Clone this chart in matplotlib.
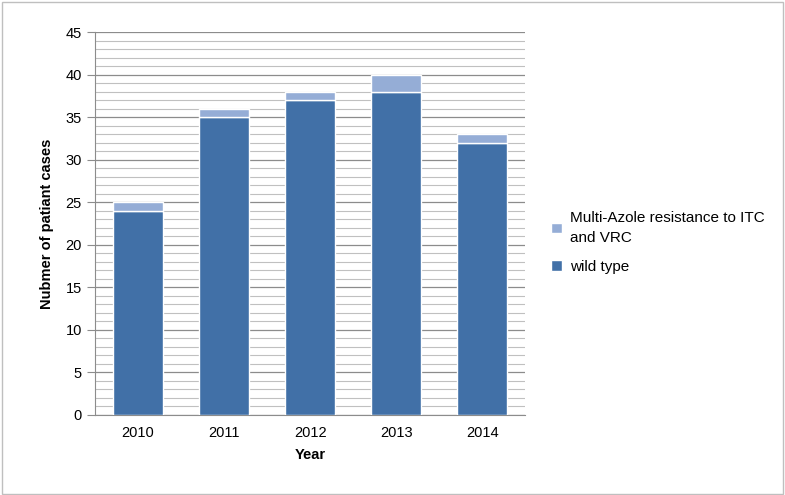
import matplotlib.pyplot as plt
from matplotlib.patches import Rectangle
from matplotlib.ticker import MultipleLocator

years = ["2010", "2011", "2012", "2013", "2014"]
wild_type = [24, 35, 37, 38, 32]
multi_azole = [1, 1, 1, 2, 1]

plt.rcParams["font.family"] = ["Liberation Sans", "DejaVu Sans"]

fig = plt.figure(figsize=(7.85, 4.95), dpi=100)
ax = fig.add_axes([0.121, 0.162, 0.548, 0.773])

x = range(len(years))
ax.bar(x, wild_type, width=0.58, color="#4170A7", edgecolor="white",
       linewidth=1, label="wild type", zorder=3)
ax.bar(x, multi_azole, bottom=wild_type, width=0.58, color="#95ADD6",
       edgecolor="white", linewidth=1,
       label="Multi-Azole resistance to ITC\nand VRC", zorder=3)

ax.set_ylim(0, 45)
ax.set_xlim(-0.5, len(years) - 0.5)
ax.yaxis.set_major_locator(MultipleLocator(5))
ax.yaxis.set_minor_locator(MultipleLocator(1))
ax.grid(axis="y", which="major", color="#8c8c8c", linewidth=0.9, zorder=0)
ax.grid(axis="y", which="minor", color="#c0c0c0", linewidth=0.8, zorder=0)
ax.set_xticks(list(x))
ax.set_xticklabels(years)
ax.tick_params(axis="y", which="major", length=6, color="#8c8c8c", labelsize=10.5)
ax.tick_params(axis="y", which="minor", length=0)
ax.tick_params(axis="x", length=0, labelsize=10.5, pad=8)

for side in ["top", "right"]:
    ax.spines[side].set_visible(False)
for side in ["left", "bottom"]:
    ax.spines[side].set_color("#8c8c8c")

ax.set_ylabel("Nubmer of patiant cases", fontweight="bold", fontsize=10.5, labelpad=8)
ax.set_xlabel("Year", fontweight="bold", fontsize=10.5, labelpad=6)

handles, labels = ax.get_legend_handles_labels()
leg = fig.legend(handles[::-1], labels[::-1], loc="center left",
                 bbox_to_anchor=(0.685, 0.51), frameon=False, fontsize=11,
                 handlelength=0.7, handleheight=0.7, handletextpad=0.5,
                 labelspacing=1.0)
for t in leg.get_texts():
    t.set_linespacing(1.5)

fig.add_artist(Rectangle((0.002, 0.003), 0.995, 0.993, transform=fig.transFigure,
                         fill=False, edgecolor="#bfbfbf", linewidth=1))

fig.savefig("out.png", dpi=100)
